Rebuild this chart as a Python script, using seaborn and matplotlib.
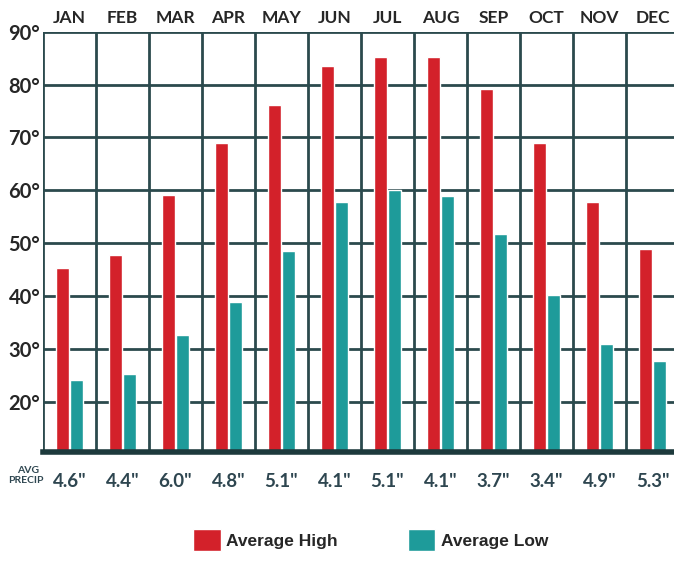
import matplotlib
matplotlib.use("Agg")
import matplotlib.pyplot as plt
import pandas as pd
import seaborn as sns
from matplotlib.ticker import FixedLocator

# Data
months = ["JAN", "FEB", "MAR", "APR", "MAY", "JUN",
          "JUL", "AUG", "SEP", "OCT", "NOV", "DEC"]
avg_high = [45.2, 47.7, 59.0, 69.0, 76.1, 83.6, 85.3, 85.3, 79.1, 69.0, 57.7, 48.9]
avg_low = [24.0, 25.2, 32.6, 38.9, 48.4, 57.7, 60.1, 58.9, 51.7, 40.1, 30.9, 27.6]
precip = ['4.6"', '4.4"', '6.0"', '4.8"', '5.1"', '4.1"',
          '5.1"', '4.1"', '3.7"', '3.4"', '4.9"', '5.3"']
y_ticks = [20, 30, 40, 50, 60, 70, 80, 90]

colors = {"Average High": "#d3212a", "Average Low": "#1e9b9a"}
grid_color = "#2b4a4d"

df = pd.DataFrame({
    "Month": months + months,
    "Temp": avg_high + avg_low,
    "Series": ["Average High"] * len(months) + ["Average Low"] * len(months),
})

sns.set_style("white")
plt.rcParams["font.family"] = ["Lato", "DejaVu Sans"]

fig = plt.figure(figsize=(6.74, 5.61), dpi=100)
ax = fig.add_axes([0.0638, 0.1938, 0.9436, 0.7497])

sns.barplot(data=df, x="Month", y="Temp", hue="Series", palette=colors,
            width=0.52, gap=0.1, saturation=1, errorbar=None, ax=ax)

ax.set_xlim(-0.5, 11.5)
ax.set_ylim(10.4, 90)
ax.set_axisbelow(True)

# cell grid
ax.xaxis.set_minor_locator(FixedLocator([i - 0.5 for i in range(13)]))
ax.grid(which="minor", axis="x", color=grid_color, lw=2)
ax.grid(which="major", axis="y", color=grid_color, lw=2)
ax.grid(which="major", axis="x", visible=False)

ax.set_yticks(y_ticks)
ax.set_yticklabels([f"{t}°" for t in y_ticks], fontweight="bold", fontsize=14.5)
ax.tick_params(axis="y", length=0, pad=2)

# precipitation along the bottom
ax.set_xticks(range(len(months)))
ax.set_xticklabels(precip, fontweight="bold", fontsize=13.5, color="#2e4650")
ax.tick_params(axis="x", which="both", length=0, pad=15)

# months along the top
top = ax.secondary_xaxis("top")
top.set_xticks(range(len(months)))
top.set_xticklabels(months, fontweight="bold", fontsize=12.5)
top.tick_params(length=0, pad=4)
for s in top.spines.values():
    s.set_visible(False)

ax.set_xlabel("")
ax.set_ylabel("")
for side in ["left", "right", "top"]:
    ax.spines[side].set_visible(False)
ax.spines["bottom"].set_color("#1d3a3c")
ax.spines["bottom"].set_linewidth(4)

fig.text(0.042, 0.162, "AVG", ha="center", va="center", fontsize=7.5,
         fontweight="bold", color="#2e4650")
fig.text(0.039, 0.143, "PRECIP", ha="center", va="center", fontsize=7.5,
         fontweight="bold", color="#2e4650")

handles, labels = ax.get_legend_handles_labels()
ax.get_legend().remove()
fig.legend(handles, labels, loc="center", bbox_to_anchor=(0.55, 0.037), ncol=2,
           frameon=False, handlelength=1.6, handleheight=1.6, handletextpad=0.3,
           columnspacing=4.0, prop={"family": "Liberation Sans", "weight": "bold", "size": 12.5})

fig.savefig("out.png", dpi=100)
